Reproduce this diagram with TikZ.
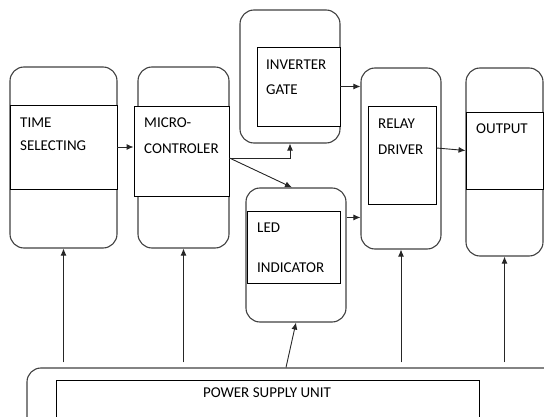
\documentclass[tikz,border=0pt]{standalone}
\usepackage{fontspec}
\setmainfont{Carlito}
\usetikzlibrary{calc, arrows.meta}

\tikzset{
	outerbox/.style={draw=black!75, line width=1.1pt, rounded corners=14pt, inner sep=0pt},
	innerbox/.style={draw=black, line width=0.9pt, inner sep=0pt, fill=white},
	label/.style={anchor=west, inner sep=0pt, font=\fontsize{15}{17}\selectfont},
	link/.style={draw=black!85, line width=0.9pt, -{Latex[length=7pt, width=6pt]}}
}

\begin{document}
\begin{tikzpicture}[x=1pt, y=-1pt]
	\clip (0, 0) rectangle (544, 417);
	\useasboundingbox (0, 0) rectangle (544, 417);
	% outer rounded blocks
	\node[outerbox, minimum width=107pt, minimum height=181pt](timeO) at (63.5, 157.5){};
	\node[outerbox, minimum width=91pt, minimum height=181pt](microO) at (183.5, 157.5){};
	\node[outerbox, minimum width=100pt, minimum height=133pt](invO) at (290, 76.5){};
	\node[outerbox, minimum width=100pt, minimum height=134pt](ledO) at (296, 255){};
	\node[outerbox, minimum width=80pt, minimum height=181pt](relayO) at (401, 158.5){};
	\node[outerbox, minimum width=77pt, minimum height=188pt](outO) at (504.5, 162){};
	\node[outerbox, minimum width=533pt, minimum height=72pt](powerO) at (293.5, 404){};
	% inner frames
	\node[innerbox, minimum width=107pt, minimum height=84pt](timeI) at (63.5, 147){};
	\node[innerbox, minimum width=95pt, minimum height=90pt](microI) at (181.5, 151){};
	\node[innerbox, minimum width=83pt, minimum height=79pt](invI) at (298.5, 86.5){};
	\node[innerbox, minimum width=93pt, minimum height=72pt](ledI) at (293.5, 247){};
	\node[innerbox, minimum width=68pt, minimum height=98pt](relayI) at (402, 155){};
	\node[innerbox, minimum width=77pt, minimum height=77pt](outI) at (504.5, 150.5){};
	\node[innerbox, minimum width=423pt, minimum height=60pt](powerI) at (267.5, 410){};
	% texts
	\node[label](t1) at (20, 123){TIME};
	\node[label](t2) at (20, 146){SELECTING};
	\node[label](m1) at (144, 123){MICRO-};
	\node[label](m2) at (144, 149){CONTROLER};
	\node[label](i1) at (266, 65){INVERTER};
	\node[label](i2) at (266, 90){GATE};
	\node[label](l1) at (257, 228){LED};
	\node[label](l2) at (257, 268){INDICATOR};
	\node[label](r1) at (378, 124){RELAY};
	\node[label](r2) at (378, 150){DRIVER};
	\node[label](o1) at (476, 129){OUTPUT};
	\node[label, anchor=center](p1) at (267, 393){POWER SUPPLY UNIT};
	% signal path
	\coordinate (mcOut) at ([yshift=-7pt]microI.east);
	\coordinate (ledOut) at ([yshift=-30pt]ledO.north east);
	\coordinate (psLed) at ($(ledO.south |- powerO.north)+(-10, 0)$);
	\draw[link] (timeI.east) -- (timeI.east -| microI.west);
	\draw[link] (mcOut) -| (invO.south);
	\draw[link] (mcOut) -- ([xshift=-4pt]ledO.north);
	\draw[link] (invI.east) -- (invI.east -| relayO.west);
	\draw[link] (ledOut) -- (ledOut -| relayO.west);
	\draw[link] ([yshift=7pt]relayI.east) -- (outI.west);
	% supply lines
	\draw[link, shorten <=5pt] (timeO.south |- powerO.north) -- (timeO.south);
	\draw[link, shorten <=5pt] (microO.south |- powerO.north) -- (microO.south);
	\draw[link] (psLed) -- (ledO.south);
	\draw[link, shorten <=5pt] (relayO.south |- powerO.north) -- (relayO.south);
	\draw[link, shorten <=5pt] (outO.south |- powerO.north) -- (outO.south);
\end{tikzpicture}
\end{document}
